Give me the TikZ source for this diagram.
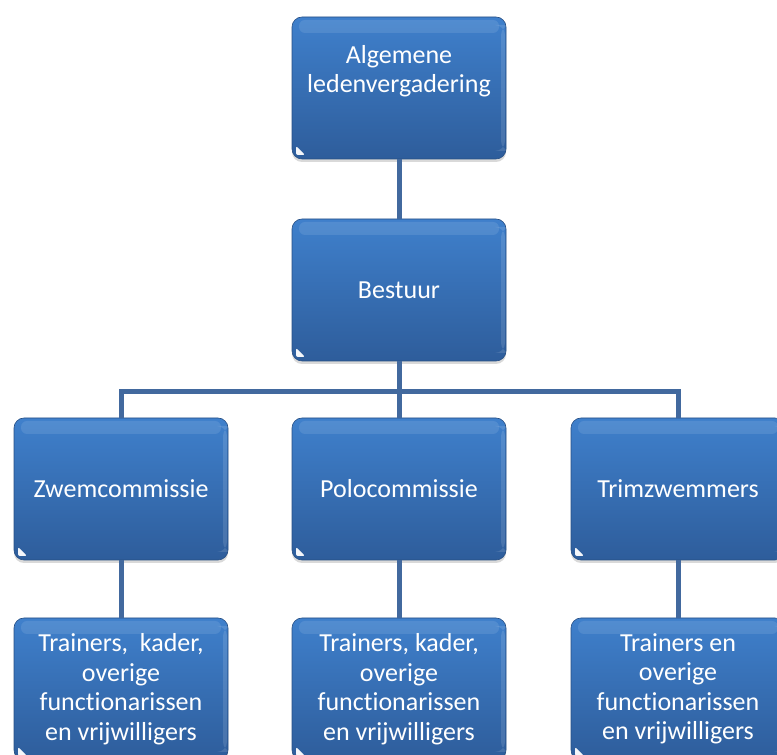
\documentclass[tikz,border=0pt]{standalone}
\usepackage{fontspec}
\setmainfont[Ligatures={NoCommon,NoContextual}]{Carlito}
\usetikzlibrary{positioning,shadows}
\definecolor{boxtop}{HTML}{3F80CC}
\definecolor{boxbot}{HTML}{2E5D9B}
\definecolor{linecol}{HTML}{42699E}
\tikzset{
  orgbox/.style={rectangle, rounded corners=10pt, minimum width=214pt,
    minimum height=142pt, inner sep=0pt, outer sep=0pt,
    top color=boxtop, bottom color=boxbot, draw=boxbot!85!black, line width=.6pt,
    text=white, align=center, font=\fontsize{26}{29.5}\selectfont,
    drop shadow={opacity=.3, shadow xshift=0pt, shadow yshift=-3pt},
    path picture={
      \fill[white, opacity=.1, rounded corners=6pt]
        ([xshift=7pt,yshift=-3pt]path picture bounding box.north west) rectangle
        ([xshift=-7pt,yshift=-16pt]path picture bounding box.north east);
      \fill[white, opacity=.12]
        ([xshift=-5pt,yshift=-8pt]path picture bounding box.north east) rectangle
        ([xshift=-1pt,yshift=8pt]path picture bounding box.south east);
      \fill[white, opacity=.95, rounded corners=2pt]
        ([xshift=4pt,yshift=4pt]path picture bounding box.south west) -- ++(9pt,0)
        -- ++(-9pt,9pt) -- cycle;
    }},
  conn/.style={draw=linecol, line width=5pt}
}
\begin{document}
\begin{tikzpicture}[x=1pt,y=1pt]
  % helper grid: comment for final drawing
  % \draw[help lines,step=50] (0,0) grid (777,755);
  \useasboundingbox (0,0) rectangle (777,755);
  \node[orgbox] (alv) at (399,667) {Algemene\\ledenvergadering\\\strut};
  \node[orgbox, below=60pt of alv] (bestuur) {Bestuur};
  \node[orgbox, below=57pt of bestuur] (polo) {Polocommissie};
  \node[orgbox, left=64pt of polo] (zwem) {Zwemcommissie};
  \node[orgbox, right=65pt of polo] (trim) {Trimzwemmers};
  \node[orgbox, below=58pt of zwem] (zwemkader) {Trainers,\ \ kader,\\overige\\functionarissen\\en vrijwilligers};
  \node[orgbox, below=58pt of polo] (polokader) {Trainers, kader,\\overige\\functionarissen\\en vrijwilligers};
  \node[orgbox, below=58pt of trim] (trimkader) {Trainers en\\overige\\functionarissen\\en vrijwilligers};
  \coordinate (split) at ([yshift=-31pt]bestuur.south);
  \draw[conn] (alv) -- (bestuur);
  \draw[conn] (bestuur) -- (split) -| (zwem);
  \draw[conn] (split) -| (trim);
  \draw[conn] (split) -- (polo);
  \draw[conn] (zwem) -- (zwemkader);
  \draw[conn] (polo) -- (polokader);
  \draw[conn] (trim) -- (trimkader);
\end{tikzpicture}
\end{document}
